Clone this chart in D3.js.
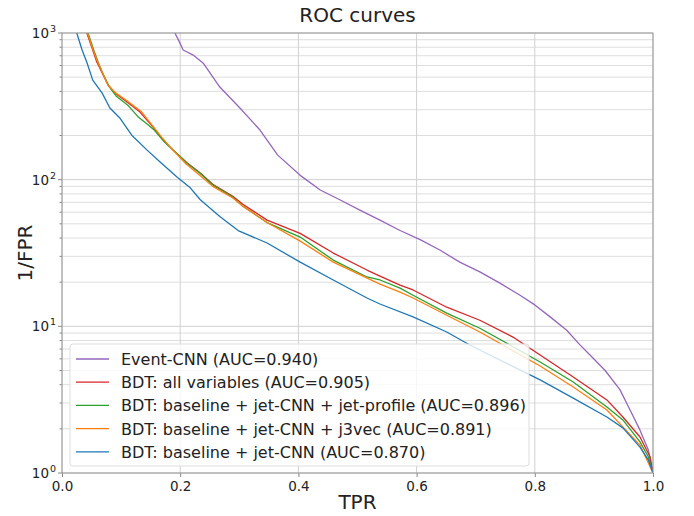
<!DOCTYPE html>
<html>
<head>
<meta charset="utf-8">
<script src="https://cdn.jsdelivr.net/npm/d3@7"></script>
<style>
  html, body { margin: 0; padding: 0; background: #fff; }
  svg { display: block; font-family: "DejaVu Sans", sans-serif; }
</style>
</head>
<body>
<svg id="chart" width="694" height="516"></svg>
<script>
// ROC curves: TPR on x, 1/FPR (log scale) on y
const tprEvent = [0.186, 0.191, 0.198, 0.205, 0.222, 0.239, 0.267, 0.301, 0.335, 0.365, 0.403, 0.437, 0.470, 0.504, 0.538, 0.572, 0.606, 0.640, 0.673, 0.707, 0.741, 0.775, 0.800, 0.826, 0.854, 0.876, 0.893, 0.919, 0.944, 0.961, 0.978, 0.992, 1.0];
const invFprEvent = [1400, 1000, 880, 766, 707, 623, 428, 308, 218, 147, 107, 85, 73, 62, 53, 45, 39, 33, 27.4, 23.5, 19.7, 16.3, 14.0, 11.6, 9.4, 7.5, 6.4, 5.0, 3.7, 2.7, 1.96, 1.44, 1.0];

const tprAll = [0.038, 0.042, 0.052, 0.059, 0.068, 0.078, 0.090, 0.110, 0.132, 0.154, 0.171, 0.188, 0.212, 0.234, 0.255, 0.289, 0.306, 0.347, 0.403, 0.459, 0.516, 0.538, 0.572, 0.594, 0.651, 0.707, 0.763, 0.809, 0.865, 0.922, 0.949, 0.978, 0.995, 1.0];
const invFprAll = [1400, 1000, 765, 632, 533, 442, 389, 338, 289, 228, 186, 159, 130, 111, 93, 77, 68, 53, 43, 31.6, 24.2, 22, 19.1, 17.7, 13.5, 11.0, 8.45, 6.37, 4.51, 3.15, 2.41, 1.76, 1.29, 1.0];

const tprProfile = [0.040, 0.044, 0.054, 0.062, 0.070, 0.080, 0.092, 0.112, 0.130, 0.144, 0.156, 0.172, 0.190, 0.212, 0.234, 0.255, 0.289, 0.306, 0.347, 0.403, 0.459, 0.516, 0.538, 0.572, 0.594, 0.651, 0.707, 0.758, 0.809, 0.865, 0.922, 0.949, 0.978, 0.992, 1.0];
const invFprProfile = [1400, 1000, 760, 620, 520, 430, 370, 320, 265, 240, 218, 183, 157, 129, 110, 92, 76, 66, 51, 40.6, 28.3, 21.7, 20.7, 18.2, 16.3, 12.3, 9.7, 7.46, 5.71, 4.17, 2.82, 2.30, 1.63, 1.29, 1.0];

const tprJ3vec = [0.039, 0.043, 0.052, 0.060, 0.068, 0.078, 0.090, 0.110, 0.134, 0.152, 0.170, 0.186, 0.210, 0.232, 0.255, 0.289, 0.306, 0.347, 0.403, 0.459, 0.538, 0.572, 0.594, 0.651, 0.707, 0.746, 0.809, 0.865, 0.922, 0.978, 1.0];
const invFprJ3vec = [1400, 1000, 780, 640, 540, 440, 392, 345, 292, 236, 192, 162, 128, 108, 90, 75, 66, 51, 38.1, 27.4, 19.4, 17.1, 15.6, 11.9, 9.15, 7.46, 5.36, 3.86, 2.69, 1.55, 1.0];

const tprBaseline = [0.022, 0.025, 0.034, 0.042, 0.052, 0.068, 0.081, 0.098, 0.118, 0.144, 0.166, 0.195, 0.217, 0.234, 0.267, 0.298, 0.347, 0.403, 0.459, 0.516, 0.538, 0.594, 0.651, 0.690, 0.809, 0.865, 0.922, 0.949, 0.978, 0.992, 1.0];
const invFprBaseline = [1400, 1000, 765, 632, 477, 389, 308, 263, 201, 159, 132, 104, 88, 73, 56, 45, 37, 27.4, 20.7, 15.6, 14.2, 11.6, 9.15, 7.46, 4.31, 3.24, 2.41, 2.03, 1.50, 1.23, 1.0];

const seriesNames = [
  "Event-CNN (AUC=0.940)",
  "BDT: all variables (AUC=0.905)",
  "BDT: baseline + jet-CNN + jet-profile (AUC=0.896)",
  "BDT: baseline + jet-CNN + j3vec (AUC=0.891)",
  "BDT: baseline + jet-CNN (AUC=0.870)"
];
const seriesColors = ["#9467bd", "#d62728", "#2ca02c", "#ff7f0e", "#1f77b4"];
const xTicks = [0.0, 0.2, 0.4, 0.6, 0.8, 1.0];
const yDecades = [1, 10, 100, 1000];
const yExponents = ["0", "1", "2", "3"];

const series = [
  [tprEvent, invFprEvent],
  [tprAll, invFprAll],
  [tprProfile, invFprProfile],
  [tprJ3vec, invFprJ3vec],
  [tprBaseline, invFprBaseline]
].map(([xs, ys], i) => ({
  name: seriesNames[i],
  color: seriesColors[i],
  points: xs.map((x, j) => ({ x, y: ys[j] }))
}));

const svg = d3.select("#chart");
const margin = { left: 62, right: 41, top: 33, bottom: 43 };
const W = 694, H = 516;
const x = d3.scaleLinear().domain([0, 1]).range([margin.left, W - margin.right]);
const y = d3.scaleLog().domain([1, 1000]).range([H - margin.bottom, margin.top]);

// minor log ticks 2..9 per decade
const minorTicks = [];
for (let d = 0; d < 3; d++) {
  for (let k = 2; k <= 9; k++) minorTicks.push(k * Math.pow(10, d));
}

// grid
const grid = svg.append("g");
grid.selectAll("line.hminor").data(minorTicks).join("line")
  .attr("x1", x(0)).attr("x2", x(1))
  .attr("y1", d => y(d)).attr("y2", d => y(d))
  .attr("stroke", "#dedede").attr("stroke-width", 1);
grid.selectAll("line.hmajor").data(yDecades).join("line")
  .attr("x1", x(0)).attr("x2", x(1))
  .attr("y1", d => y(d)).attr("y2", d => y(d))
  .attr("stroke", "#d0d0d0").attr("stroke-width", 1);
grid.selectAll("line.v").data(xTicks).join("line")
  .attr("x1", d => x(d)).attr("x2", d => x(d))
  .attr("y1", y(1)).attr("y2", y(1000))
  .attr("stroke", "#d0d0d0").attr("stroke-width", 1);

// curves
svg.append("clipPath").attr("id", "plotclip")
  .append("rect")
  .attr("x", x(0)).attr("y", y(1000))
  .attr("width", x(1) - x(0)).attr("height", y(1) - y(1000));

const path = d3.line().x(d => x(d.x)).y(d => y(d.y));
const curves = svg.append("g").attr("clip-path", "url(#plotclip)");
series.forEach(s => {
  curves.append("path")
    .datum(s.points)
    .attr("d", path)
    .attr("fill", "none")
    .attr("stroke", s.color)
    .attr("stroke-width", 1.3)
    .attr("stroke-linejoin", "round");
});

// axes
const xAxis = d3.axisBottom(x).tickValues(xTicks).tickFormat(d3.format(".1f")).tickSize(4).tickPadding(4);
const gx = svg.append("g").attr("transform", `translate(0,${y(1)})`).call(xAxis);
gx.select(".domain").remove();
gx.selectAll("line").attr("stroke", "#888");
gx.selectAll("text").attr("font-size", 13.5).attr("fill", "#222").attr("font-family", "DejaVu Sans");

const gy = svg.append("g").attr("transform", `translate(${x(0)},0)`);
gy.selectAll("line.minor").data(minorTicks).join("line")
  .attr("x1", -2.5).attr("x2", 0)
  .attr("y1", d => y(d)).attr("y2", d => y(d))
  .attr("stroke", "#888");
gy.selectAll("line.major").data(yDecades).join("line")
  .attr("x1", -4).attr("x2", 0)
  .attr("y1", d => y(d)).attr("y2", d => y(d))
  .attr("stroke", "#888");
const yl = gy.selectAll("text.tl").data(yDecades).join("text")
  .attr("x", -13).attr("y", d => y(d) + 5)
  .attr("text-anchor", "end")
  .attr("font-size", 13.5).attr("fill", "#222");
yl.append("tspan").text("10");
gy.selectAll("text.sup").data(yDecades).join("text")
  .attr("x", -12).attr("y", d => y(d) - 1)
  .attr("text-anchor", "start")
  .attr("font-size", 9.5).attr("fill", "#222")
  .text((d, i) => yExponents[i]);

// frame
svg.append("rect")
  .attr("x", x(0)).attr("y", y(1000))
  .attr("width", x(1) - x(0)).attr("height", y(1) - y(1000))
  .attr("fill", "none").attr("stroke", "#999").attr("stroke-width", 1);

// titles
svg.append("text").attr("x", (x(0) + x(1)) / 2).attr("y", 22)
  .attr("text-anchor", "middle").attr("font-size", 20).attr("fill", "#222")
  .text("ROC curves");
svg.append("text").attr("x", (x(0) + x(1)) / 2).attr("y", 509)
  .attr("text-anchor", "middle").attr("font-size", 20).attr("fill", "#222")
  .text("TPR");
svg.append("text")
  .attr("transform", `translate(32,${(y(1) + y(1000)) / 2}) rotate(-90)`)
  .attr("text-anchor", "middle").attr("font-size", 20).attr("fill", "#222")
  .text("1/FPR");

// legend
const legend = svg.append("g");
legend.append("rect")
  .attr("x", 70).attr("y", 344).attr("width", 459).attr("height", 122)
  .attr("rx", 3).attr("ry", 3)
  .attr("fill", "#fff").attr("fill-opacity", 0.8)
  .attr("stroke", "#ddd").attr("stroke-width", 1);
series.forEach((s, i) => {
  const cy = 359 + i * 23.2;
  legend.append("line")
    .attr("x1", 76).attr("x2", 109).attr("y1", cy).attr("y2", cy)
    .attr("stroke", s.color).attr("stroke-width", 1.3);
  legend.append("text")
    .attr("x", 121).attr("y", cy + 6)
    .attr("font-size", 16).attr("fill", "#222")
    .text(s.name);
});
</script>
</body>
</html>
